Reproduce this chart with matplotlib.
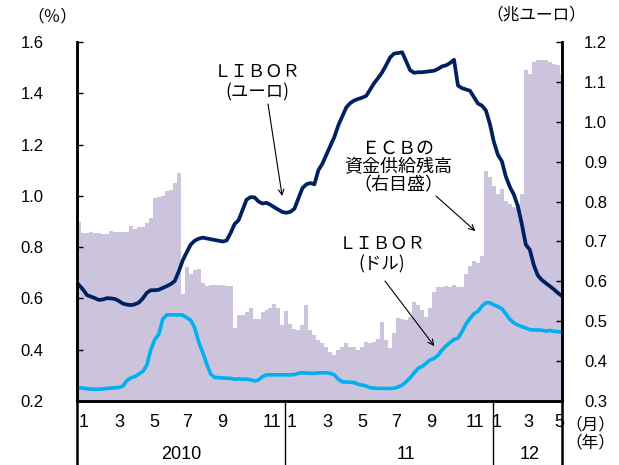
import numpy as np
import pandas as pd
import matplotlib
matplotlib.use("Agg")
import matplotlib.pyplot as plt
from matplotlib import font_manager
import matplotlib.transforms as mtransforms

# weekly data, Jan 2010 - Apr 2012
weeks = pd.date_range("2010-01-01", periods=122, freq="7D")

ecb_supply = [  # trillion euro, right axis
    0.750, 0.721, 0.721, 0.723, 0.722, 0.720, 0.719, 0.719, 0.727, 0.724,
    0.723, 0.724, 0.724, 0.739, 0.730, 0.737, 0.735, 0.745, 0.760, 0.808,
    0.812, 0.815, 0.827, 0.830, 0.846, 0.872, 0.568, 0.635, 0.618, 0.628,
    0.632, 0.595, 0.588, 0.590, 0.590, 0.590, 0.590, 0.588, 0.588, 0.484,
    0.516, 0.516, 0.522, 0.532, 0.505, 0.505, 0.522, 0.528, 0.534, 0.544,
    0.534, 0.490, 0.526, 0.493, 0.480, 0.478, 0.490, 0.540, 0.478, 0.465,
    0.453, 0.445, 0.436, 0.424, 0.416, 0.428, 0.436, 0.445, 0.436, 0.436,
    0.428, 0.436, 0.449, 0.445, 0.449, 0.455, 0.498, 0.453, 0.432, 0.470,
    0.507, 0.505, 0.503, 0.511, 0.548, 0.540, 0.528, 0.511, 0.532, 0.574,
    0.586, 0.585, 0.588, 0.585, 0.592, 0.586, 0.585, 0.618, 0.639, 0.652,
    0.645, 0.664, 0.877, 0.861, 0.840, 0.819, 0.832, 0.802, 0.794, 0.786,
    0.794, 0.819, 1.129, 1.120, 1.150, 1.155, 1.155, 1.155, 1.150, 1.144,
    1.142, 1.120]

libor_eur = [
    0.652, 0.635, 0.613, 0.607, 0.601, 0.594, 0.596, 0.601, 0.600, 0.598,
    0.590, 0.580, 0.576, 0.574, 0.577, 0.584, 0.600, 0.622, 0.632, 0.632,
    0.634, 0.641, 0.648, 0.656, 0.668, 0.705, 0.748, 0.780, 0.810, 0.825,
    0.833, 0.837, 0.834, 0.831, 0.828, 0.825, 0.822, 0.826, 0.855, 0.890,
    0.905, 0.945, 0.985, 0.995, 0.994, 0.978, 0.970, 0.973, 0.965, 0.955,
    0.946, 0.937, 0.934, 0.938, 0.950, 0.990, 1.030, 1.045, 1.050, 1.045,
    1.100, 1.125, 1.160, 1.195, 1.229, 1.275, 1.310, 1.345, 1.362, 1.372,
    1.378, 1.383, 1.390, 1.415, 1.440, 1.460, 1.482, 1.510, 1.540, 1.555,
    1.557, 1.560, 1.525, 1.490, 1.480, 1.482, 1.482, 1.484, 1.486, 1.488,
    1.495, 1.505, 1.509, 1.518, 1.531, 1.430, 1.420, 1.415, 1.410, 1.385,
    1.360, 1.352, 1.333, 1.280, 1.210, 1.160, 1.135, 1.075, 1.035, 1.005,
    0.960, 0.890, 0.810, 0.790, 0.730, 0.690, 0.672, 0.660, 0.648, 0.636,
    0.622, 0.610]

libor_usd = [
    0.252, 0.250, 0.248, 0.246, 0.246, 0.246, 0.247, 0.249, 0.250, 0.252,
    0.253, 0.258, 0.280, 0.290, 0.295, 0.305, 0.315, 0.340, 0.400, 0.440,
    0.460, 0.520, 0.536, 0.536, 0.536, 0.536, 0.535, 0.525, 0.515, 0.486,
    0.430, 0.390, 0.345, 0.305, 0.292, 0.291, 0.290, 0.289, 0.288, 0.285,
    0.286, 0.285, 0.285, 0.283, 0.278, 0.282, 0.295, 0.302, 0.302, 0.302,
    0.302, 0.302, 0.302, 0.302, 0.303, 0.308, 0.310, 0.309, 0.308, 0.308,
    0.310, 0.310, 0.310, 0.308, 0.302, 0.285, 0.275, 0.274, 0.273, 0.272,
    0.265, 0.262, 0.258, 0.252, 0.250, 0.249, 0.249, 0.249, 0.249, 0.250,
    0.255, 0.262, 0.275, 0.290, 0.310, 0.327, 0.335, 0.347, 0.360, 0.366,
    0.378, 0.399, 0.415, 0.428, 0.440, 0.445, 0.470, 0.500, 0.522, 0.540,
    0.550, 0.570, 0.583, 0.583, 0.575, 0.568, 0.560, 0.540, 0.518, 0.505,
    0.496, 0.490, 0.485, 0.478, 0.477, 0.477, 0.476, 0.473, 0.475, 0.472,
    0.470, 0.470]

month_labels = ["1", "3", "5", "7", "9", "11",
                "1", "3", "5", "7", "9", "11",
                "1", "3", "5"]
month_pos = ["2010-01-13", "2010-03-16", "2010-05-17", "2010-07-13", "2010-09-12", "2010-12-09",
             "2011-01-13", "2011-03-16", "2011-05-16", "2011-07-14", "2011-09-14", "2011-12-01",
             "2012-01-07", "2012-03-03", "2012-04-27"]
year_labels = ["2010", "11", "12"]
year_pos = ["2010-07-03", "2011-08-01", "2012-03-05"]
year_breaks = ["2010-01-01", "2011-01-01", "2012-01-01", "2012-05-01"]

names = {f.name for f in font_manager.fontManager.ttflist}
num_font = "Liberation Sans Narrow" if "Liberation Sans Narrow" in names else "Liberation Sans"
plt.rcParams["font.family"] = ["Noto Sans CJK JP", "DejaVu Sans"]

NAVY = "#002060"
SKY = "#00B0F0"
BAR = "#CCC4DC"

fig = plt.figure(figsize=(6.19, 4.65), dpi=100)
ax = fig.add_axes([77/619, 64/465, 485/619, 359/465])
ax2 = ax.twinx()
ax.set_zorder(ax2.get_zorder() + 1)
ax.patch.set_visible(False)

ax2.bar(weeks, ecb_supply, width=7, align="edge", color=BAR, linewidth=0)
mid = weeks + pd.Timedelta(days=3.5)
ax.plot(mid, libor_eur, color=NAVY, lw=2.7, solid_joinstyle="round")
ax.plot(mid, libor_usd, color=SKY, lw=2.6, solid_joinstyle="round")

x0, x1 = pd.Timestamp("2010-01-01"), pd.Timestamp("2012-05-01")
ax.set_xlim(x0, x1)
ax.set_ylim(0.2, 1.6)
ax2.set_ylim(0.3, 1.2)
ax.set_yticks(np.arange(0.2, 1.61, 0.2))
ax2.set_yticks(np.arange(0.3, 1.21, 0.1))
ax.set_yticklabels(["%.1f" % v for v in np.arange(0.2, 1.61, 0.2)], fontsize=12, family="Liberation Sans")
ax2.set_yticklabels(["%.1f" % v for v in np.arange(0.3, 1.21, 0.1)], fontsize=12, family="Liberation Sans")
ax.tick_params(axis="y", direction="in", length=4, width=1, pad=24)
ax2.tick_params(axis="y", direction="in", length=4, width=1, pad=16)
ax.set_xticks([])
ax2.set_xticks([])

for a in (ax, ax2):
    a.spines["top"].set_visible(False)
    for s in ("left", "right", "bottom"):
        a.spines[s].set_linewidth(1.8)

# x axis labels
trans = mtransforms.blended_transform_factory(ax.transData, ax.transAxes)
for lab, p in zip(month_labels, month_pos):
    ax.text(pd.Timestamp(p), -0.06, lab, transform=trans, ha="center", va="center",
            fontsize=13, family=num_font)
for lab, p in zip(year_labels, year_pos):
    ax.text(pd.Timestamp(p), -0.15, lab, transform=trans, ha="center", va="center",
            fontsize=13, family=num_font)
for i, p in enumerate(year_breaks):
    ax.plot([pd.Timestamp(p)] * 2, [0, -0.18], transform=trans, color="black",
            lw=1.8 if i in (0, 3) else 1.0, clip_on=False)

fig.text(52/619, 1 - 17/465, "（％）", ha="center", va="center", fontsize=12)
fig.text(536/619, 1 - 15/465, "（兆ユーロ）", ha="center", va="center", fontsize=12)
fig.text(590/619, 1 - 425/465, "（月）", ha="center", va="center", fontsize=12)
fig.text(590/619, 1 - 443/465, "（年）", ha="center", va="center", fontsize=12)

fig.text(257/619, 1 - 82/465, "ＬＩＢＯＲ\n(ユーロ)", ha="center", va="center",
         fontsize=12.5, linespacing=1.2)
fig.text(398/619, 1 - 167/465, "ＥＣＢの\n資金供給残高\n（右目盛）", ha="center", va="center",
         fontsize=13, linespacing=1.05)
fig.text(382/619, 1 - 254/465, "ＬＩＢＯＲ\n(ドル)", ha="center", va="center",
         fontsize=12.5, linespacing=1.2)

arrow = dict(arrowstyle="->", color="black", lw=0.8, shrinkA=0, shrinkB=0)
ax.annotate("", xy=(pd.Timestamp("2010-12-27"), 0.999), xytext=(268/619, 1 - 104/465),
            textcoords="figure fraction", arrowprops=arrow)
ax2.annotate("", xy=(pd.Timestamp("2011-12-01"), 0.726), xytext=(436/619, 1 - 196/465),
             textcoords="figure fraction", arrowprops=arrow)
ax.annotate("", xy=(pd.Timestamp("2011-09-20"), 0.414), xytext=(385/619, 1 - 281/465),
            textcoords="figure fraction", arrowprops=arrow)

fig.savefig("out.png", dpi=100)
